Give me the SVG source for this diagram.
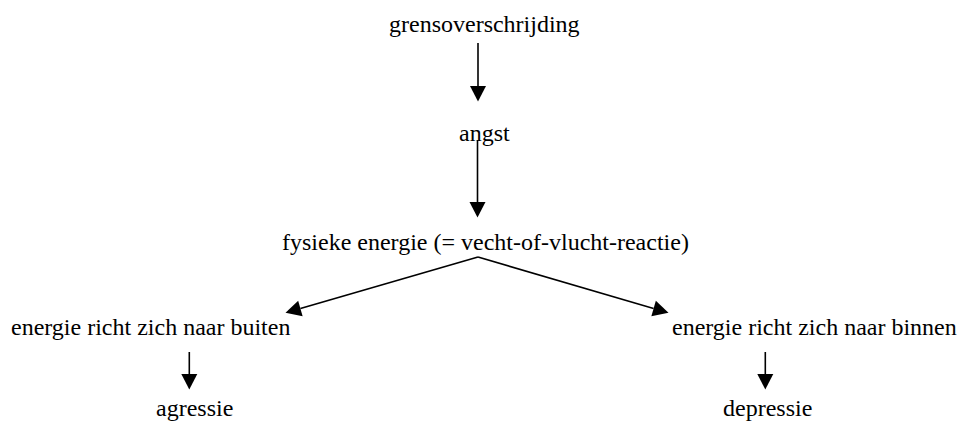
<svg xmlns="http://www.w3.org/2000/svg" width="959" height="423" viewBox="0 0 959 423">
<style>
text{font-family:"Liberation Serif","Times New Roman",serif;font-size:24px;fill:#000}
.c line{stroke:#000;stroke-width:1.6;fill:none}
</style>
<defs>
<marker id="ah" markerUnits="userSpaceOnUse" markerWidth="16" markerHeight="16" refX="0" refY="8" orient="auto" overflow="visible">
<path d="M0,0 L15.5,8 L0,16 z" fill="#000"/>
</marker>
</defs>
<rect width="959" height="423" fill="#fff"/>
<g id="n1"><text x="389" y="32">grensoverschrijding</text></g>
<g id="n2"><text x="459" y="141">angst</text></g>
<g id="n3"><text x="282" y="250">fysieke energie (= vecht-of-vlucht-reactie)</text></g>
<g id="n4"><text x="11" y="335">energie richt zich naar buiten</text></g>
<g id="n5"><text x="672" y="335">energie richt zich naar binnen</text></g>
<g id="n6"><text x="156" y="416">agressie</text></g>
<g id="n7"><text x="723" y="416">depressie</text></g>
<g class="c" id="connectors">
<line x1="478" y1="43" x2="478" y2="86" marker-end="url(#ah)"/>
<line x1="477.5" y1="140" x2="477.5" y2="202" marker-end="url(#ah)"/>
<line x1="478" y1="257" x2="300.4" y2="308.5" marker-end="url(#ah)"/>
<line x1="478" y1="257" x2="653.6" y2="308.5" marker-end="url(#ah)"/>
<line x1="189.3" y1="352" x2="189.3" y2="374" marker-end="url(#ah)"/>
<line x1="765.3" y1="352" x2="765.3" y2="374" marker-end="url(#ah)"/>
</g>
</svg>
